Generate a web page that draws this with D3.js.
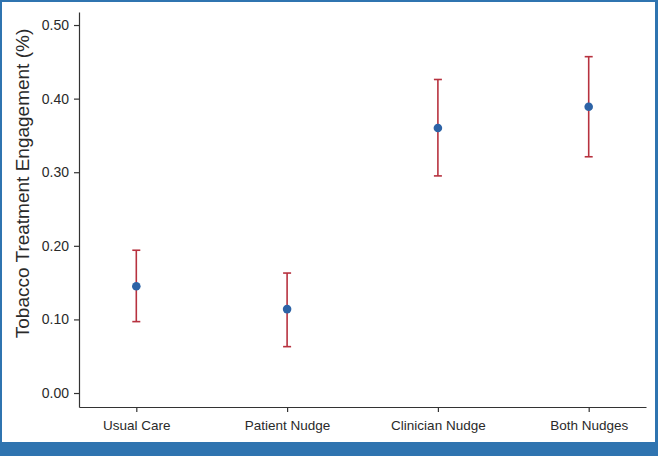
<!DOCTYPE html>
<html>
<head>
<meta charset="utf-8">
<script src="https://cdn.jsdelivr.net/npm/d3@7"></script>
<style>
  body { margin: 0; background: #fff; }
  svg { display: block; font-family: "Liberation Sans", Arial, sans-serif; }
</style>
</head>
<body>
<div id="chart"></div>
<script>
// data
const groups = ["Usual Care", "Patient Nudge", "Clinician Nudge", "Both Nudges"];
const estimate = [0.145, 0.114, 0.360, 0.389];
const lower = [0.097, 0.063, 0.295, 0.321];
const upper = [0.194, 0.163, 0.426, 0.457];
const yTicks = [0, 0.1, 0.2, 0.3, 0.4, 0.5];

const W = 658, H = 456;
const frameColor = "#2f74b0";

const svg = d3.select("#chart").append("svg")
  .attr("width", W)
  .attr("height", H);

// frame + bottom band
svg.append("rect").attr("width", W).attr("height", H).attr("fill", frameColor);
svg.append("rect").attr("x", 2).attr("y", 2).attr("width", W - 5).attr("height", 440).attr("fill", "#fff");

// scales
const x = d3.scalePoint().domain(groups).range([79, 646]).padding(0.38);
const y = d3.scaleLinear().domain([-0.019, 0.5177]).range([407, 12]);

// x axis
const xAxis = svg.append("g")
  .attr("transform", "translate(0,407)")
  .call(d3.axisBottom(x).tickSize(5).tickSizeOuter(0).tickPadding(8));
xAxis.selectAll("text").style("font-size", "13.5px").attr("fill", "#2a2a2a");

// y axis
const yAxis = svg.append("g")
  .attr("transform", "translate(79,0)")
  .call(d3.axisLeft(y).tickValues(yTicks).tickFormat(d3.format(".2f")).tickSize(5).tickSizeOuter(0).tickPadding(5));
yAxis.selectAll("text").style("font-size", "14px").attr("fill", "#2a2a2a");
svg.selectAll(".domain, .tick line").attr("stroke", "#333").attr("stroke-width", 1.2);

// y label
svg.append("text")
  .attr("transform", `translate(22,${(25 + 342) / 2}) rotate(-90)`)
  .attr("text-anchor", "middle")
  .attr("dominant-baseline", "central")
  .style("font-size", "19px")
  .attr("fill", "#2a2a2a")
  .text("Tobacco Treatment Engagement (%)");

// error bars
const rows = groups.map((g, i) => ({ g, est: estimate[i], lo: lower[i], hi: upper[i] }));
const bars = svg.append("g").attr("stroke", "#b7323f").attr("stroke-width", 1.6);

bars.selectAll(".stem").data(rows).enter().append("line")
  .attr("x1", d => x(d.g)).attr("x2", d => x(d.g))
  .attr("y1", d => y(d.lo)).attr("y2", d => y(d.hi));

bars.selectAll(".cap-hi").data(rows).enter().append("line")
  .attr("x1", d => x(d.g) - 4).attr("x2", d => x(d.g) + 4)
  .attr("y1", d => y(d.hi)).attr("y2", d => y(d.hi));

bars.selectAll(".cap-lo").data(rows).enter().append("line")
  .attr("x1", d => x(d.g) - 4).attr("x2", d => x(d.g) + 4)
  .attr("y1", d => y(d.lo)).attr("y2", d => y(d.lo));

// points
svg.append("g").selectAll("circle").data(rows).enter().append("circle")
  .attr("cx", d => x(d.g))
  .attr("cy", d => y(d.est))
  .attr("r", 4.3)
  .attr("fill", "#2d63a6");
</script>
</body>
</html>
